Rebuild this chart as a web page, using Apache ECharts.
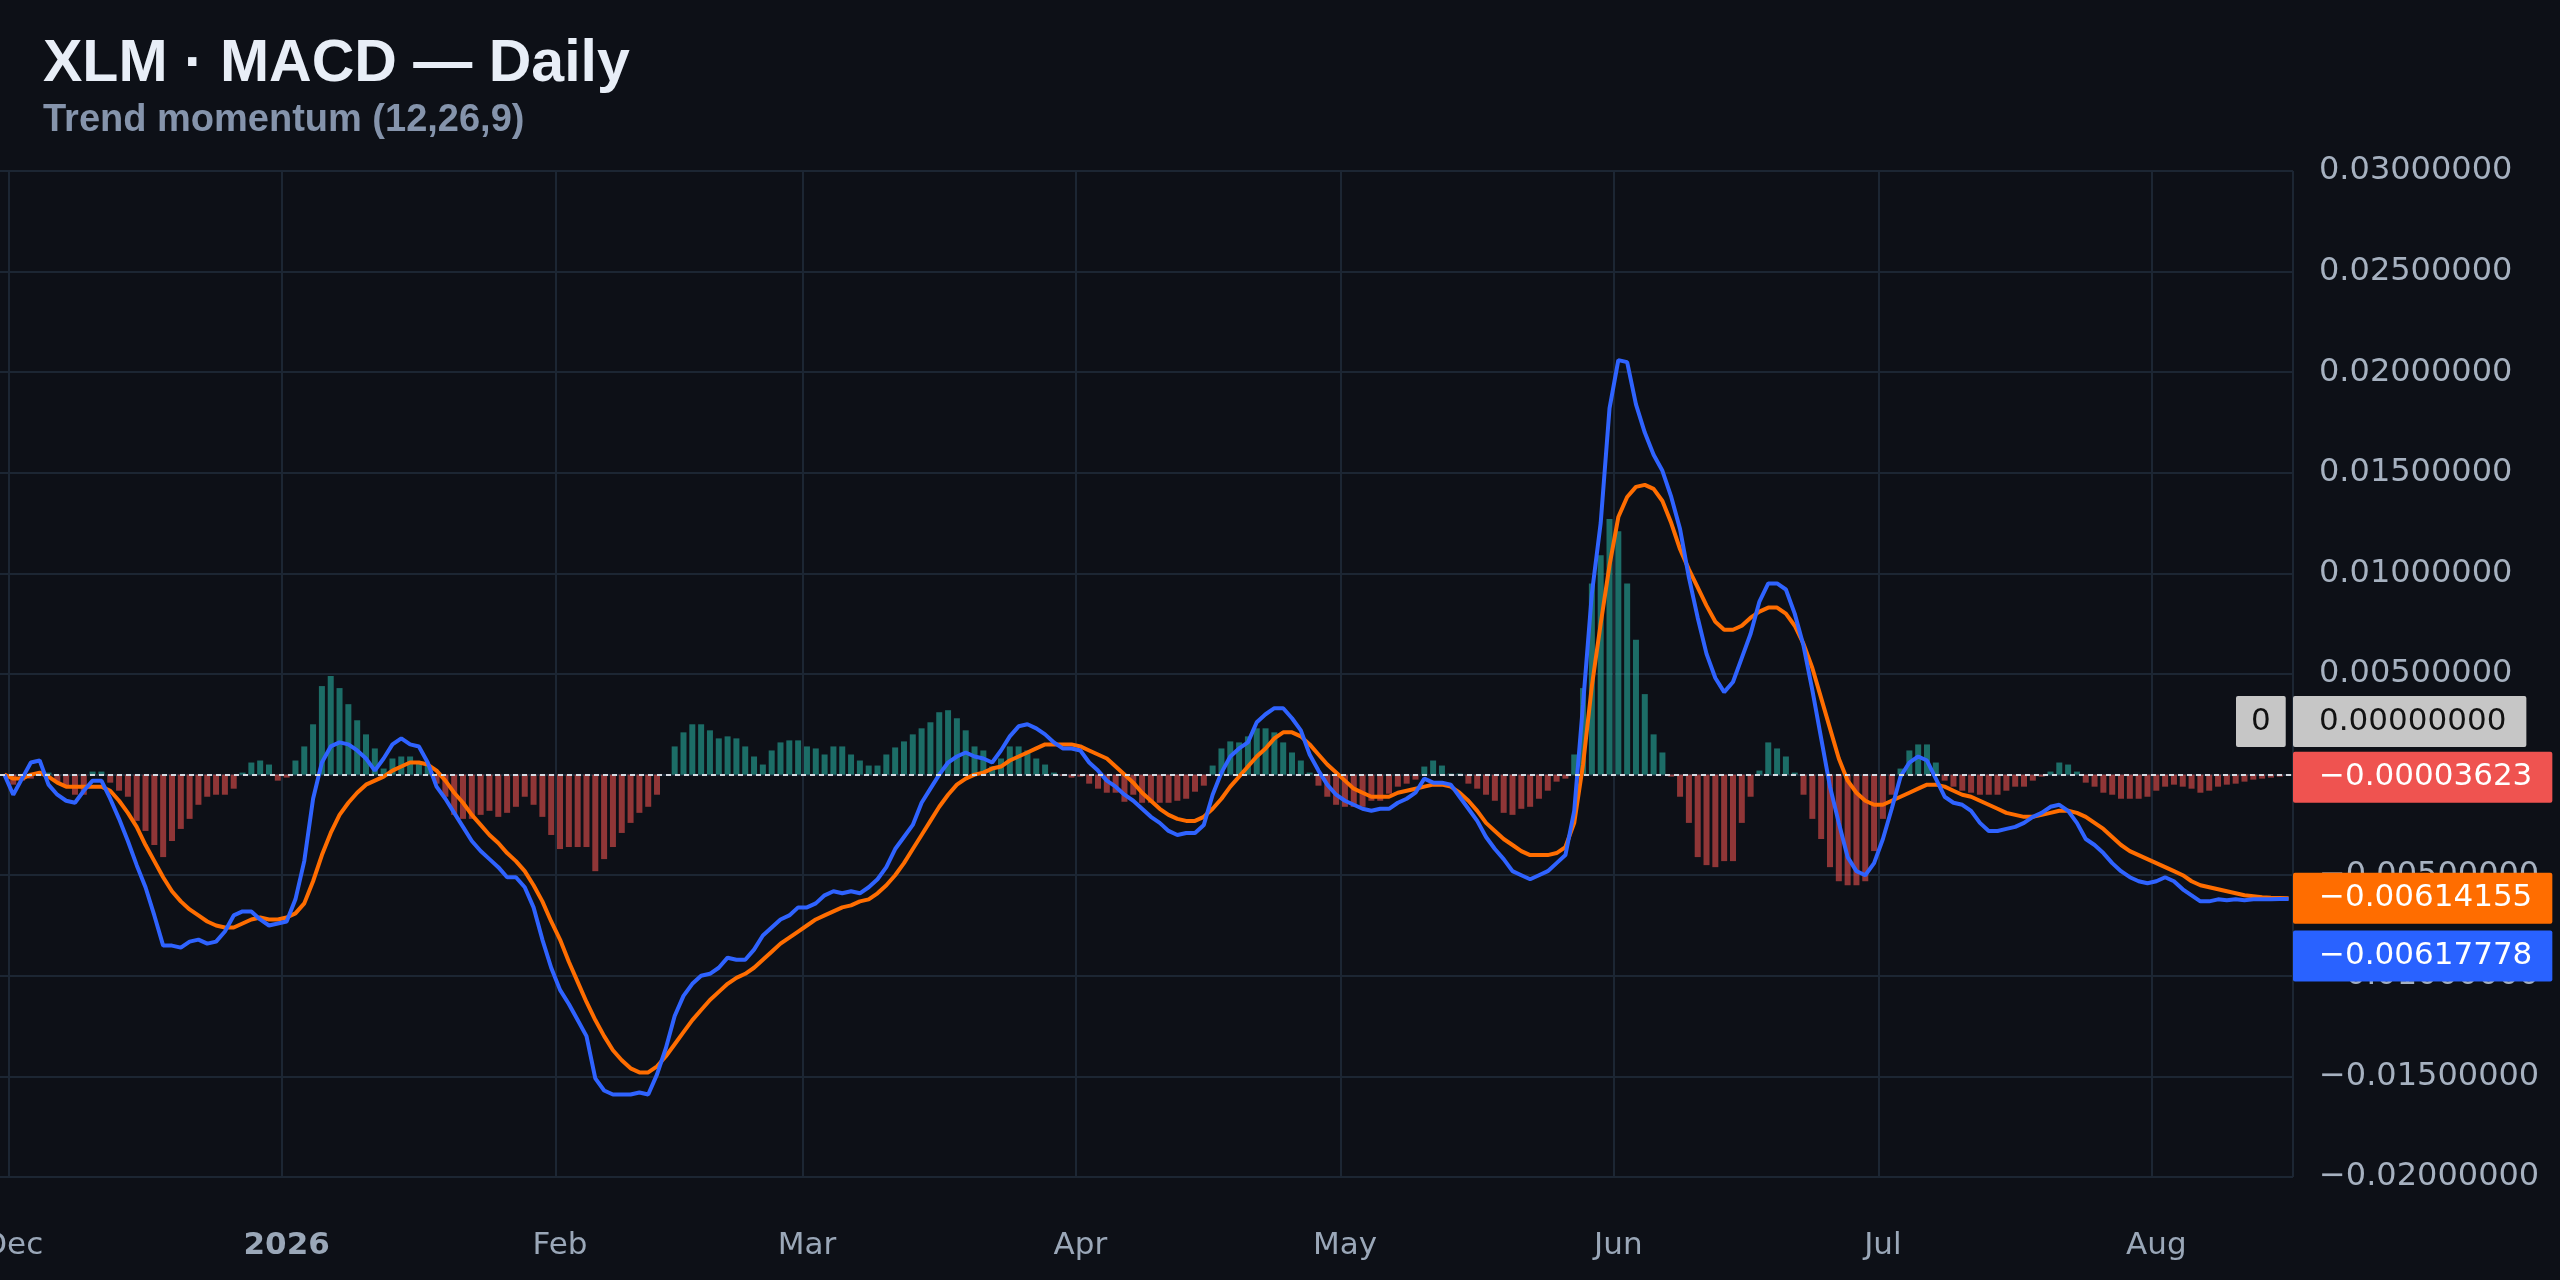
<!DOCTYPE html>
<html><head><meta charset="utf-8">
<script src="https://cdn.jsdelivr.net/npm/echarts@6/dist/echarts.min.js"></script>
<style>html,body{margin:0;padding:0;background:#0d1017;}#c{width:2560px;height:1280px;}</style>
</head><body><div id="c"></div>
<script>
// values in thousandths (×0.001)
const startDate = '2025-11-30';
const dayCount = 260;
const macd = [0.0,-1.0,-0.2,0.6,0.7,-0.5,-1.0,-1.3,-1.4,-0.8,-0.3,-0.3,-1.2,-2.2,-3.3,-4.5,-5.6,-7.0,-8.5,-8.5,-8.6,-8.3,-8.2,-8.4,-8.3,-7.8,-7.0,-6.8,-6.8,-7.2,-7.5,-7.4,
-7.3,-6.2,-4.3,-1.2,0.6,1.4,1.6,1.5,1.2,0.8,0.2,0.8,1.5,1.8,1.5,1.4,0.6,-0.6,-1.2,-1.9,-2.6,-3.3,-3.8,-4.2,-4.6,-5.1,-5.1,-5.6,-6.6,-8.2,-9.6,
-10.7,-11.4,-12.2,-13.0,-15.1,-15.7,-15.9,-15.9,-15.9,-15.8,-15.9,-14.9,-13.6,-12.0,-11.0,-10.4,-10.0,-9.9,-9.6,-9.1,-9.2,-9.2,-8.7,-8.0,-7.6,-7.2,-7.0,-6.6,
-6.6,-6.4,-6.0,-5.8,-5.9,-5.8,-5.9,-5.6,-5.2,-4.6,-3.7,-3.1,-2.5,-1.4,-0.7,0.0,0.6,0.9,1.1,0.9,0.8,0.6,1.2,1.9,2.4,2.5,2.3,2.0,1.6,1.3,1.3,
1.2,0.6,0.2,-0.3,-0.6,-1.0,-1.3,-1.7,-2.1,-2.4,-2.8,-3.0,-2.9,-2.9,-2.5,-1.0,0.1,0.9,1.3,1.6,2.6,3.0,3.3,3.3,2.8,2.2,1.0,0.2,-0.5,-1.0,
-1.3,-1.5,-1.7,-1.8,-1.7,-1.7,-1.4,-1.2,-0.9,-0.2,-0.4,-0.4,-0.5,-1.1,-1.7,-2.3,-3.1,-3.7,-4.2,-4.8,-5.0,-5.2,-5.0,-4.8,-4.4,-4.0,-1.8,3.5,9.0,12.5,18.2,
20.6,20.5,18.4,17.0,15.9,15.1,13.8,12.2,9.8,7.8,6.0,4.8,4.1,4.6,5.8,7.0,8.6,9.5,9.5,9.2,8.0,6.4,4.2,1.8,-0.6,-2.4,-4.1,-4.8,-5.0,-4.4,
-3.2,-1.7,-0.1,0.6,0.9,0.7,-0.2,-1.1,-1.4,-1.5,-1.8,-2.4,-2.8,-2.8,-2.7,-2.6,-2.4,-2.1,-1.9,-1.6,-1.5,-1.8,-2.4,-3.2,-3.5,-3.9,-4.4,-4.8,-5.1,-5.3,-5.4,
-5.3,-5.1,-5.3,-5.7,-6.0,-6.3,-6.3,-6.2,-6.25,-6.2,-6.25,-6.2,-6.2,-6.2,-6.18,-6.17778];
const signal = [0,-0.2,-0.2,0.0,0.1,-0.1,-0.4,-0.6,-0.6,-0.6,-0.6,-0.6,-0.8,-1.3,-1.9,-2.6,-3.5,-4.3,-5.1,-5.8,-6.3,-6.7,-7.0,-7.3,-7.5,-7.6,-7.6,-7.4,-7.2,-7.1,-7.2,-7.2,
-7.1,-6.9,-6.4,-5.3,-4.0,-2.9,-2.0,-1.4,-0.9,-0.5,-0.3,-0.1,0.2,0.4,0.6,0.6,0.5,0.2,-0.3,-0.9,-1.4,-2.0,-2.5,-3.0,-3.4,-3.9,-4.3,-4.8,-5.5,-6.3,-7.3,
-8.2,-9.3,-10.3,-11.3,-12.2,-13.0,-13.7,-14.2,-14.6,-14.8,-14.8,-14.5,-14.0,-13.4,-12.8,-12.2,-11.7,-11.2,-10.8,-10.4,-10.1,-9.9,-9.6,-9.2,-8.8,-8.4,-8.1,-7.8,
-7.5,-7.2,-7.0,-6.8,-6.6,-6.5,-6.3,-6.2,-5.9,-5.5,-5.0,-4.4,-3.7,-3.0,-2.3,-1.6,-1.0,-0.5,-0.2,0.0,0.1,0.3,0.4,0.7,0.9,1.1,1.3,1.5,1.5,1.5,1.5,
1.4,1.2,1.0,0.8,0.4,0.0,-0.4,-0.9,-1.3,-1.7,-2.0,-2.2,-2.3,-2.3,-2.1,-1.7,-1.2,-0.6,-0.1,0.4,0.9,1.3,1.8,2.1,2.1,1.9,1.5,1.0,0.5,0.1,
-0.3,-0.7,-0.9,-1.1,-1.1,-1.1,-0.9,-0.8,-0.7,-0.6,-0.5,-0.5,-0.6,-0.9,-1.3,-1.8,-2.4,-2.8,-3.2,-3.5,-3.8,-4.0,-4.0,-4.0,-3.9,-3.6,-2.4,0.5,4.4,7.5,10.4,
12.8,13.8,14.3,14.4,14.2,13.6,12.5,11.2,10.2,9.3,8.4,7.6,7.2,7.2,7.4,7.8,8.1,8.3,8.3,8.0,7.4,6.5,5.3,3.8,2.3,0.8,-0.3,-0.9,-1.3,-1.5,
-1.5,-1.3,-1.1,-0.9,-0.7,-0.5,-0.5,-0.6,-0.8,-1.0,-1.1,-1.3,-1.5,-1.7,-1.9,-2.0,-2.1,-2.1,-2.0,-1.9,-1.8,-1.8,-1.9,-2.1,-2.4,-2.7,-3.1,-3.5,-3.8,-4.0,-4.2,
-4.4,-4.6,-4.8,-5.0,-5.3,-5.5,-5.6,-5.7,-5.8,-5.9,-6.0,-6.05,-6.1,-6.12,-6.13,-6.14155];
const hist = [0,-0.5,-0.3,-0.2,0.1,0.1,-0.4,-0.6,-1.0,-1.0,0.15,0.15,-0.4,-0.8,-1.1,-2.3,-2.8,-3.5,-4.1,-3.3,-2.7,-2.2,-1.5,-1.1,-1.0,-1.0,-0.7,0.1,0.6,0.7,0.5,-0.3,
-0.15,0.7,1.4,2.5,4.4,4.9,4.3,3.5,2.7,2.0,1.3,0.3,0.8,0.9,0.9,0.6,0.5,-0.45,-1.1,-2.0,-2.2,-2.2,-2.0,-1.8,-2.1,-1.9,-1.6,-1.1,-1.5,-2.1,-3.0,
-3.7,-3.6,-3.6,-3.6,-4.8,-4.2,-3.6,-2.9,-2.4,-1.9,-1.6,-1.0,0.0,1.4,2.1,2.5,2.5,2.2,1.8,1.9,1.8,1.4,0.9,0.5,1.2,1.6,1.7,1.7,
1.4,1.3,1.0,1.4,1.4,1.0,0.7,0.45,0.45,1.0,1.35,1.65,2.0,2.3,2.6,3.1,3.2,2.8,2.2,1.4,1.2,0.4,0.8,1.4,1.4,1.2,0.8,0.5,0.1,-0.05,-0.15,
-0.1,-0.45,-0.7,-0.9,-0.9,-1.35,-1.0,-1.4,-1.4,-1.4,-1.4,-1.3,-1.2,-0.85,-0.55,0.45,1.3,1.65,1.6,1.9,2.3,2.3,2.1,1.6,1.1,0.7,0.1,-0.55,-1.1,-1.5,
-1.6,-1.6,-1.6,-1.3,-1.3,-0.95,-0.6,-0.45,-0.25,0.4,0.7,0.45,0.05,0.05,-0.45,-0.7,-1.0,-1.3,-1.9,-2.0,-1.7,-1.6,-1.2,-0.8,-0.35,-0.2,1.0,4.3,9.5,10.9,12.7,
12.1,9.5,6.7,4.0,2.0,1.1,-0.1,-1.1,-2.4,-4.1,-4.5,-4.6,-4.3,-4.3,-2.4,-1.1,0.2,1.6,1.3,0.9,0.1,-1.0,-2.2,-3.2,-4.6,-5.3,-5.5,-5.5,-5.3,-3.8,
-2.2,-1.0,0.3,1.2,1.5,1.5,0.6,-0.3,-0.6,-0.8,-0.9,-1.0,-1.0,-1.0,-0.8,-0.6,-0.6,-0.3,-0.1,0.15,0.6,0.5,0.15,-0.4,-0.6,-0.9,-1.0,-1.2,-1.2,-1.2,-1.1,
-0.8,-0.6,-0.5,-0.6,-0.7,-0.9,-0.8,-0.6,-0.5,-0.45,-0.35,-0.25,-0.2,-0.15,-0.1,-0.03623];
const monthNames = ['Jan','Feb','Mar','Apr','May','Jun','Jul','Aug','Sep','Oct','Nov','Dec'];
const yTicks = [-20,-15,-10,-5,0,5,10,15,20,25,30];

const dates = [];
{ const d0 = new Date(startDate + 'T00:00:00Z');
  for (let i = 0; i < dayCount; i++) { const d = new Date(d0.getTime() + i*86400000); dates.push(d.toISOString().slice(0,10)); } }
const isMonthStart = (i) => dates[i].slice(8,10) === '01';
const fmt = v => { const s = (Math.abs(v)/1000).toFixed(8); return (v < 0 ? '\u2212' : '') + s; };
const lastMacd = macd[macd.length-1], lastSig = signal[signal.length-1], lastHist = hist[hist.length-1];
const hidden = { color:'rgba(0,0,0,0)', width:0 };

const chart = echarts.init(document.getElementById('c'), null, {renderer:'canvas'});
const boxLabel = (bg, color, dy) => ({ show:true, position:'end', distance:0, formatter:p=>fmt(p.value), backgroundColor:bg, color:color,
  fontFamily:'DejaVu Sans', fontSize:31, padding:[10,20,10,26], offset:[0,dy], borderRadius:2 });
chart.setOption({
  backgroundColor:'#0d1017',
  animation:false,
  title:{ text:'XLM · MACD — Daily', subtext:'Trend momentum (12,26,9)', left:38, top:30, itemGap:8,
    textStyle:{ color:'#e8eef7', fontSize:59, fontWeight:'bold', fontFamily:'Liberation Sans' },
    subtextStyle:{ color:'#8594ac', fontSize:38, fontWeight:'bold', fontFamily:'Liberation Sans' } },
  grid:{ left:0, right:267, top:171, bottom:103, outerBoundsMode:'none', containLabel:false },
  xAxis:{ type:'category', data:dates, boundaryGap:true, offset:31,
    axisLine:{ show:true, lineStyle:{ color:'#1e2a38', width:2 } }, axisTick:{ show:false },
    axisLabel:{ interval:(i)=>isMonthStart(i), margin:22, color:'#9aa7b8', fontFamily:'DejaVu Sans', fontSize:31,
      formatter:(v)=>{ const m = +v.slice(5,7); return m===1 ? '{y|'+v.slice(0,4)+'}' : monthNames[m-1]; },
      rich:{ y:{ fontWeight:'bold', color:'#9aa7b8', fontFamily:'DejaVu Sans', fontSize:31 } } },
    splitLine:{ show:true, interval:(i)=>isMonthStart(i), lineStyle:{ color:'#1c2633', width:2 } } },
  yAxis:{ type:'value', position:'right', min:yTicks[0], max:yTicks[yTicks.length-1], interval:5,
    axisLine:{ show:false }, axisTick:{ show:false },
    axisLabel:{ margin:26, color:'#a6b1c0', fontFamily:'DejaVu Sans', fontSize:32, formatter:fmt },
    splitLine:{ lineStyle:{ color:'#1c2633', width:2 } } },
  series:[
    { type:'bar', data:hist.map(v=>({ value:v, itemStyle:{ color: v>=0 ? 'rgba(38,166,154,0.62)' : 'rgba(239,83,80,0.58)' } })),
      barWidth:'68%', z:1,
      markLine:{ symbol:'none', silent:true, animation:false, precision:6, data:[
        { yAxis:0, lineStyle:{ color:'#d5dbe3', type:[5,4], width:2 }, label:boxLabel('#c6c6c6','#111111',-53) },
        { yAxis:0, lineStyle:hidden, label:{ show:true, position:'end', distance:0, formatter:'0', backgroundColor:'#c6c6c6', color:'#111',
            fontFamily:'DejaVu Sans', fontSize:31, padding:[10,15,10,15], offset:[-57,-53], borderRadius:2 } },
        { yAxis:lastHist, lineStyle:hidden, label:boxLabel('#ef5350','#ffffff',2) } ] } },
    { type:'line', data:macd, showSymbol:false, z:3, lineStyle:{ color:'#2f63ff', width:4 }, itemStyle:{ color:'#2f63ff' },
      markLine:{ symbol:'none', silent:true, precision:6, data:[ { yAxis:lastMacd, lineStyle:hidden, label:boxLabel('#2962ff','#ffffff',57) } ] } },
    { type:'line', data:signal, showSymbol:false, z:2, lineStyle:{ color:'#ff6d00', width:4 }, itemStyle:{ color:'#ff6d00' },
      markLine:{ symbol:'none', silent:true, precision:6, data:[ { yAxis:lastSig, lineStyle:hidden, label:boxLabel('#ff6d00','#ffffff',0) } ] } }
  ]
});
</script></body></html>
